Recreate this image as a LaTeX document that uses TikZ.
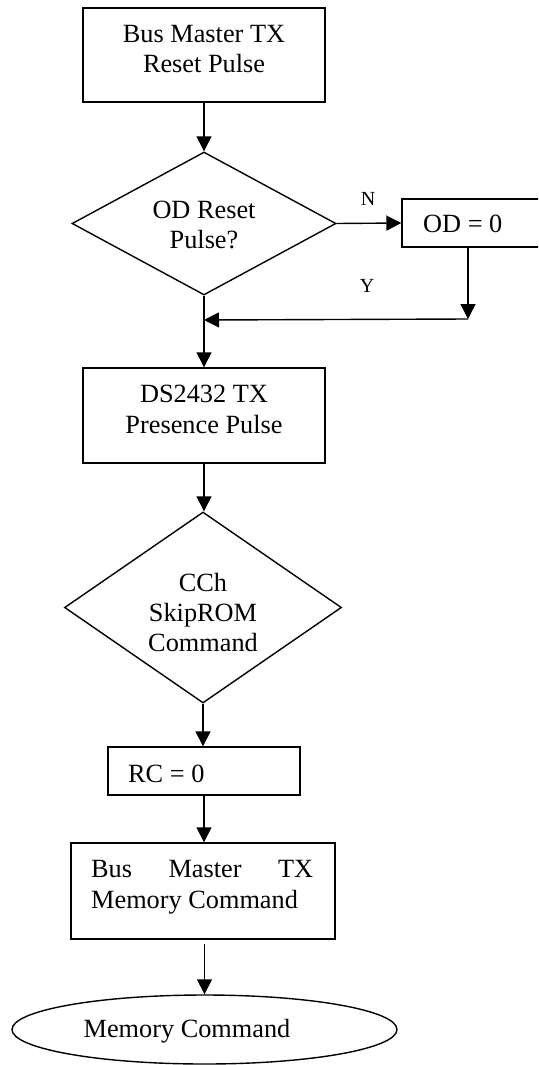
\documentclass[tikz,border=0pt]{standalone}
\usepackage{fontspec}
\setmainfont{Liberation Serif}
\usetikzlibrary{shapes.geometric,arrows.meta}

\tikzset{
  shape line/.style={draw=black, line width=1.4pt, inner sep=0pt},
  stepbox/.style={shape line, rectangle},
  decision/.style={shape line, diamond},
  terminal/.style={shape line, ellipse},
  txt/.style={inner sep=0pt, anchor=base, font=\fontsize{26.3}{30}\selectfont},
  lbl/.style={inner sep=0pt, anchor=base, font=\fontsize{20}{24}\selectfont},
  flow/.style={line width=1.4pt, -{Triangle[length=15pt,width=15pt]}}
}

\begin{document}
\begin{tikzpicture}[x=1pt, y=-1pt]
\useasboundingbox (0,0) rectangle (538,1065);
% page frame: the OD box runs off the right side
\clip (0,0) rectangle (538,1065);

% shapes
\node[stepbox, minimum width=148pt, minimum height=48pt] (od) at (476,223) {};
\node[stepbox, minimum width=242pt, minimum height=94pt] (b1) at (204,55) {};
\node[decision, minimum width=264pt, minimum height=143pt] (d1) at (204,223.5) {};
\node[stepbox, minimum width=242pt, minimum height=95pt] (b2) at (204,415.5) {};
\node[decision, minimum width=277pt, minimum height=191pt] (d2) at (203,607.5) {};
\node[stepbox, minimum width=192pt, minimum height=48pt] (rc) at (204,771) {};
\node[stepbox, minimum width=264pt, minimum height=96pt] (b3) at (203,891) {};
\node[terminal, minimum width=385pt, minimum height=69pt] (el) at (204.5,1029.5) {};

% texts
\node[txt] (t1a) at (204,43) {Bus Master TX};
\node[txt] (t1b) at (204,73) {Reset Pulse};
\node[txt] (t2a) at (204,218) {OD Reset};
\node[txt] (t2b) at (204,248) {Pulse?};
\node[txt, anchor=base west] (t3) at (423,232) {OD = 0};
\node[txt] (t4a) at (204,402) {DS2432 TX};
\node[txt] (t4b) at (204,433) {Presence Pulse};
\node[txt] (t5a) at (203,591) {CCh};
\node[txt] (t5b) at (203,621) {SkipROM};
\node[txt] (t5c) at (203,651) {Command};
\node[txt, anchor=base west] (t6) at (128,782) {RC = 0};
\node[txt, anchor=base west] (t7a) at (91,877) {\makebox[222pt][s]{Bus Master TX}};
\node[txt, anchor=base west] (t7b) at (91,908) {Memory Command};
\node[txt] (t8) at (187,1037) {Memory Command};
\node[lbl] (ln) at (368,205) {N};
\node[lbl] (ly) at (367,292) {Y};

% junction points of the OD = 0 return path
\coordinate (j1) at (468,319);
\coordinate (j2) at (204,320);

% connectors
\draw[flow] (b1.south) -- (d1.north);
\draw[flow] (d1.east) -- (od.west);
\draw[flow] (od.south -| j1) -- (j1);
\draw[flow] (j1) -- (j2);
\draw[flow] (d1.south) -- (b2.north);
\draw[flow] (b2.south) -- (d2.north -| b2.south);
\draw[flow] (d2.south) -- (d2.south |- rc.north);
\draw[flow] (rc.south) -- (rc.south |- b3.north);
\draw[flow, shorten <=4pt] (b3.south -| el.north) -- (el.north);
\end{tikzpicture}
\end{document}
